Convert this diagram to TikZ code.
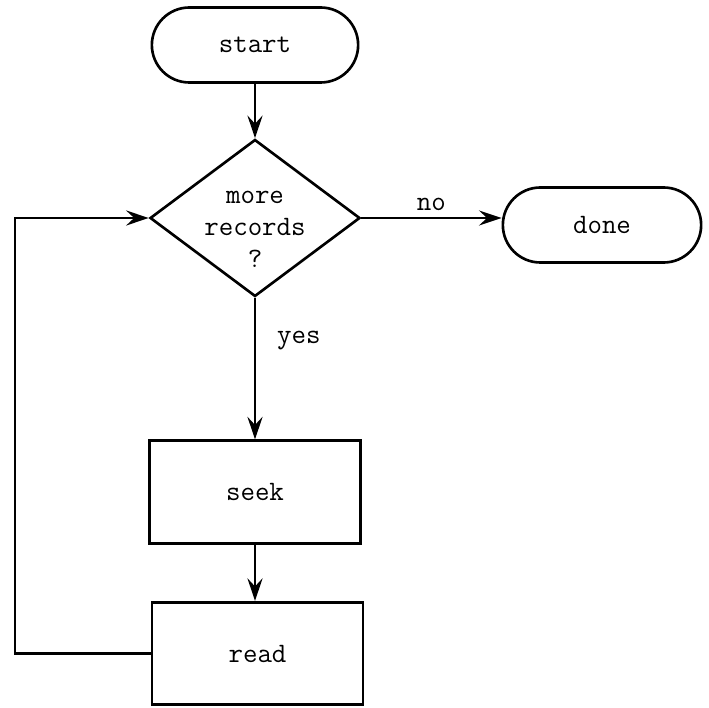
\documentclass[tikz,border=0pt]{standalone}
\usepackage{tikz}
\usetikzlibrary{shapes.geometric, shapes.misc, arrows.meta, positioning}

\begin{document}
\begin{tikzpicture}[
    line width=1.5pt,
    font=\fontsize{16}{18.2}\selectfont\ttfamily,
    terminal/.style={draw, rounded rectangle, minimum width=4.2cm, minimum height=1.5cm},
    decision/.style={draw, diamond, minimum width=4.2cm, minimum height=3.14cm, inner sep=0pt},
    process/.style={draw, rectangle, minimum width=4.22cm, minimum height=2.05cm},
    flow/.style={line width=1.5pt, -{Stealth[length=4.5mm, width=3mm, inset=1.6mm]}}
]
        \useasboundingbox (0,0) rectangle (14.18,14.14);

        % Draw the nodes of the flow
        \node[terminal, minimum width=4.36cm] (start) at (5.1,13.24) {start};
        \node[decision] (more) at (5.1,9.78) {};
        \node[align=center] (moretext) at ([yshift=-0.22cm]more.center) {more\\records\\?};
        \node[terminal] (done) at (12.04,9.64) {done};
        \node[process] (seek) at (5.1,4.3) {seek};
        \node[process] (read) at (5.15,1.07) {read};
        \coordinate (back) at (0.3,0);

        % Draw the connectors and labels
        \draw[flow] (start.south) -- (more.north);
        \draw[flow] (more.east) -- node[above] {no} (more.east -| done.west);
        \draw[flow] (more.south) -- node[pos=0.3, right=0.3cm] {yes} (seek.north);
        \draw[flow] (seek.south) -- (seek.south |- read.north);

        % Draw the loop back to the test
        \draw[flow] (read.west) -- (read.west -| back) |- (more.west);
    \end{tikzpicture}
\end{document}
